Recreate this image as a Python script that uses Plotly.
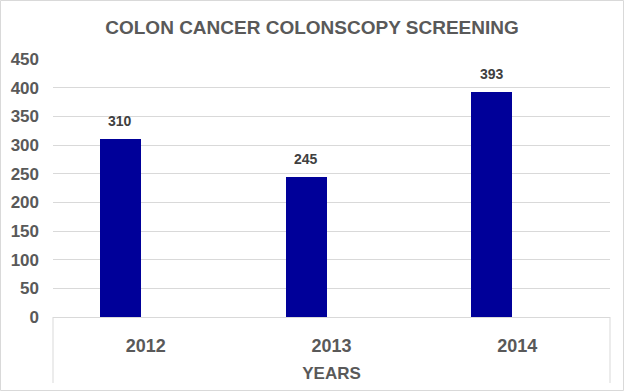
import plotly.graph_objects as go

years = ["2012", "2013", "2014"]
screenings = [310, 245, 393]
y_ticks = [0, 50, 100, 150, 200, 250, 300, 350, 400, 450]

W, H = 624, 391
L, R, T, B = 53, 14, 59, 74
pw, ph = W - L - R, H - T - B

BAR_W, BAR_OFF = 0.221, -0.247
cat_px = pw / len(years)

fig = go.Figure()
fig.add_trace(go.Bar(
    x=years, y=screenings,
    marker=dict(color="#000099", line=dict(width=0)),
    width=BAR_W, offset=BAR_OFF,
    showlegend=False,
    hovertemplate="%{x}: %{y}<extra></extra>",
))

# data labels: category axes take annotation x as the category's serial index
annotations = [
    dict(x=i, y=v, xref="x", yref="y", text=str(v), showarrow=False,
         xanchor="center", yanchor="bottom",
         xshift=(BAR_OFF + BAR_W / 2) * cat_px, yshift=8,
         font=dict(family="Liberation Sans, Arial, sans-serif", size=14, color="#404040", weight="bold"))
    for i, v in enumerate(screenings)
]

def px_x(p):
    return (p - L) / pw

def px_y(p):
    return (H - B - p) / ph

shapes = [
    dict(type="rect", xref="paper", yref="paper",
         x0=px_x(0.5), x1=px_x(W - 0.5), y0=px_y(H - 0.5), y1=px_y(0.5),
         line=dict(color="#d9d9d9", width=1), fillcolor="rgba(0,0,0,0)", layer="below"),
    dict(type="line", xref="paper", yref="paper", x0=0, x1=0, y0=0, y1=px_y(383),
         line=dict(color="#d9d9d9", width=1)),
    dict(type="line", xref="paper", yref="paper", x0=1, x1=1, y0=0, y1=px_y(383),
         line=dict(color="#d9d9d9", width=1)),
]

fig.update_layout(
    width=W, height=H,
    margin=dict(l=L, r=R, t=T, b=B, pad=0, autoexpand=False),
    paper_bgcolor="white", plot_bgcolor="white",
    title=dict(text="COLON CANCER COLONSCOPY SCREENING",
               x=0.5, xanchor="center", y=1 - 27 / H, yanchor="middle", automargin=False,
               font=dict(family="Liberation Sans, Arial, sans-serif",
                         size=19, color="#595959", weight="bold")),
    font=dict(family="Liberation Sans, Arial, sans-serif", color="#595959"),
    shapes=shapes,
    annotations=annotations,
    bargap=0,
)
fig.update_xaxes(
    type="category", automargin=False, range=[-0.5, len(years) - 0.5],
    showline=True, linecolor="#d9d9d9", linewidth=1,
    showgrid=False, ticks="",
    tickfont=dict(size=18, color="#595959", weight="bold"),
    ticklabelstandoff=12,
    title=dict(text="YEARS", font=dict(size=17, color="#595959", weight="bold"), standoff=12),
)
fig.update_yaxes(
    range=[0, 450], tickvals=y_ticks, ticktext=[str(t) for t in y_ticks],
    automargin=False,
    showgrid=True, gridcolor="#d9d9d9", gridwidth=1,
    zeroline=False, showline=False, ticks="",
    tickfont=dict(size=17, color="#595959", weight="bold"),
    ticklabelstandoff=13,
)

fig.write_html("out.html", config={"displayModeBar": False},
               post_script="document.body.style.margin='0';")
